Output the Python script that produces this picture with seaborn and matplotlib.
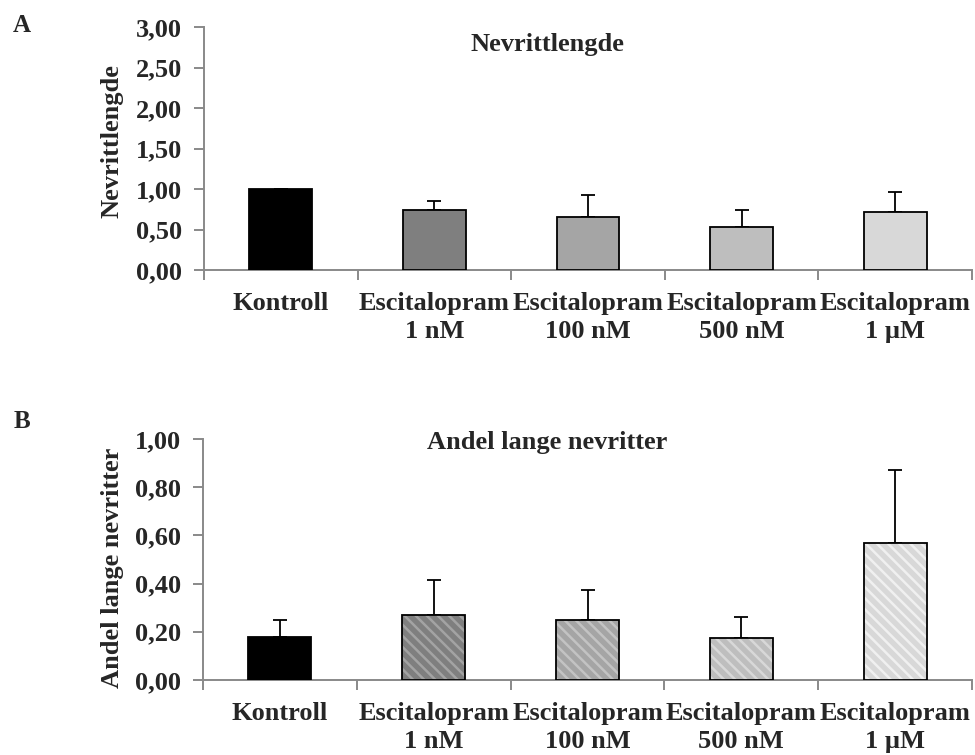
import numpy as np
import pandas as pd
import matplotlib
matplotlib.use("Agg")
import matplotlib.pyplot as plt
from matplotlib.patches import Rectangle
from matplotlib.ticker import FuncFormatter
import seaborn as sns

# Groups
categories = ["Kontroll", "Escitalopram\n1 nM", "Escitalopram\n100 nM",
              "Escitalopram\n500 nM", "Escitalopram\n1 µM"]

# A: neurite length (relative to control), mean and SD
length_mean = [1.00, 0.74, 0.66, 0.53, 0.71]
length_err = [0.00, 0.115, 0.27, 0.21, 0.25]

# B: fraction of long neurites, mean and SD
long_mean = [0.177, 0.271, 0.249, 0.173, 0.570]
long_err = [0.073, 0.143, 0.123, 0.090, 0.301]

fill_colors = ["#000000", "#7f7f7f", "#a5a5a5", "#bebebe", "#d8d8d8"]
stripe_colors = [None, "#a3a3a3", "#c3c3c3", "#d8d8d8", "#f0f0f0"]

sns.set_theme(style="white")
plt.rcParams["font.family"] = ["Liberation Serif", "DejaVu Serif"]
plt.rcParams["font.weight"] = "bold"
plt.rcParams["hatch.linewidth"] = 1.8

FS = 19
AXIS_GREY = "#898989"
W, H = 975, 755

fig = plt.figure(figsize=(W / 100, H / 100), dpi=100)


def px_axes(left, top, right, bottom):
    return fig.add_axes([left / W, 1 - bottom / H, (right - left) / W, (bottom - top) / H])


def comma_fmt(v, _pos):
    return f"{v:.2f}".replace(".", ",")


def style_axes(ax, ymax, ystep):
    ax.set_ylim(0, ymax)
    ax.set_xlim(-0.5, len(categories) - 0.5)
    ax.set_yticks(np.arange(0, ymax + 1e-9, ystep))
    ax.yaxis.set_major_formatter(FuncFormatter(comma_fmt))
    # boundary ticks on the x axis, labels centred under the bars
    ax.set_xticks(np.arange(-0.5, len(categories)), labels=[""] * (len(categories) + 1))
    ax.set_xticks(np.arange(len(categories)), labels=categories, minor=True)
    ax.tick_params(axis="x", which="major", length=7, width=1.4, color=AXIS_GREY,
                   direction="out", bottom=True)
    ax.tick_params(axis="x", which="minor", length=0, pad=16, labelsize=FS)
    ax.tick_params(axis="y", length=7, width=1.4, color=AXIS_GREY, direction="out",
                   left=True, pad=9, labelsize=FS)
    for lab in ax.get_xticklabels(minor=True):
        lab.set_fontweight("bold")
        lab.set_linespacing(1.28)
    for lab in ax.get_yticklabels():
        lab.set_fontweight("bold")
    for side in ("top", "right"):
        ax.spines[side].set_visible(False)
    for side in ("left", "bottom"):
        ax.spines[side].set_color(AXIS_GREY)
        ax.spines[side].set_linewidth(1.4)
    ax.set_xlabel("")
    ax.set_ylabel("")


def draw_panel(ax, means, errs, striped):
    df = pd.DataFrame({"group": categories, "value": means})
    sns.barplot(data=df, x="group", y="value", hue="group", palette=fill_colors,
                legend=False, saturation=1, width=0.41, errorbar=None,
                edgecolor="black", linewidth=1.3, ax=ax, zorder=3)
    if striped:
        for p, sc in zip(ax.patches, stripe_colors):
            if sc is None:
                continue
            p.set_hatch("\\\\\\")
            p.set_edgecolor(sc)
            p.set_linewidth(0)
            ax.add_patch(Rectangle(p.get_xy(), p.get_width(), p.get_height(),
                                   fill=False, edgecolor="black", linewidth=1.3,
                                   zorder=3.5))
    x = np.arange(len(categories))
    ax.errorbar(x, means, yerr=[np.zeros(len(errs)), errs], fmt="none",
                ecolor="black", elinewidth=1.3, capsize=4.7, capthick=1.3, zorder=2)


# Panel A
axA = px_axes(204, 27, 972, 270)
draw_panel(axA, length_mean, length_err, striped=False)
style_axes(axA, 3.0, 0.5)

# Panel B
axB = px_axes(203, 439, 972, 680)
draw_panel(axB, long_mean, long_err, striped=True)
style_axes(axB, 1.0, 0.2)

# Titles, axis labels and panel letters
fig.text(547 / W, 1 - 44 / H, "Nevrittlengde", ha="center", va="center",
         fontsize=FS, fontweight="bold")
fig.text(547 / W, 1 - 443 / H, "Andel lange nevritter", ha="center", va="center",
         fontsize=FS, fontweight="bold")
fig.text(112 / W, 1 - 141 / H, "Nevrittlengde", rotation=90, ha="center", va="center",
         fontsize=FS, fontweight="bold")
fig.text(112 / W, 1 - 568 / H, "Andel lange nevritter", rotation=90, ha="center",
         va="center", fontsize=FS, fontweight="bold")
fig.text(22 / W, 1 - 25 / H, "A", ha="center", va="center", fontsize=18, fontweight="bold")
fig.text(22 / W, 1 - 421 / H, "B", ha="center", va="center", fontsize=18, fontweight="bold")

fig.savefig("out.png", dpi=100, facecolor="white")
